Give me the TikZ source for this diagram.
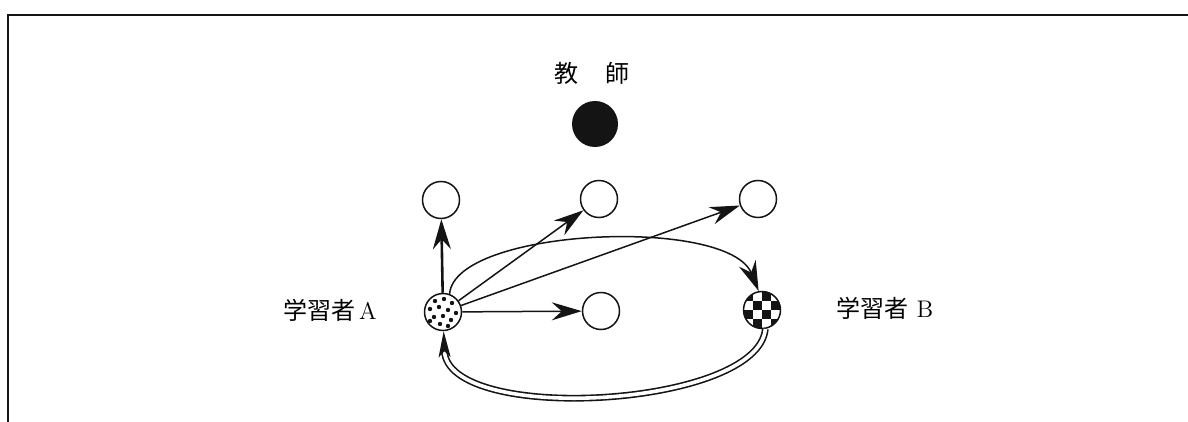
\documentclass[tikz,border=0pt]{standalone}
\usepackage{fontspec}
\newfontfamily\cjk{Noto Sans CJK JP}
\usepackage{tikz}
\usetikzlibrary{arrows.meta}
\definecolor{figline}{RGB}{20,20,20}
\tikzset{
  pt/.style  ={circle, draw=figline, line width=0.75pt, minimum size=18.5pt, inner sep=0pt, fill=white},
  tch/.style ={circle, fill=figline, minimum size=23pt, inner sep=0pt},
  lab/.style ={font=\fontsize{12pt}{14pt}\selectfont, inner sep=1pt},
  ln/.style  ={draw=figline, line width=0.75pt, -{Stealth[length=15pt,width=9pt,inset=5pt]}},
  lnb/.style ={ln, line width=1.3pt},
  dbl/.style ={draw=figline, line width=0.8pt, double=white, double distance=1.8pt, -{Stealth[length=13pt,width=6pt,inset=3pt]}},
  frm/.style ={draw=figline, line width=1pt},
}

\begin{document}
\begin{tikzpicture}[x=0.5pt,y=-0.5pt]
  \useasboundingbox (0,0) rectangle (1188,422);
  \draw[frm] (7,15) -- (1188,15);
  \draw[frm] (8,15) -- (8,422);
  \node[lab] (tlab) at (592,73) {\cjk 教\hspace{14pt}師};
  \node[tch] (tch) at (595,124) {};
  \node[pt] (tl) at (441,200) {};
  \node[pt] (tm) at (599,199) {};
  \node[pt] (tr) at (758,199) {};
  \node[pt] (mb) at (601,311) {};
  \node[pt, path picture={
    \begin{scope}[shift={(path picture bounding box.center)}]
      \foreach \p in {(-8,-11),(1,-13),(9,-9),(-13,-3),(-4,-5),(5,-2),(13,1),(-9,5),(0,4),(8,8),(-3,12),(5,14),(-13,9)}
        \fill[figline] \p circle (1.1pt);
    \end{scope}}] (la) at (443,312) {};
  \node[pt, path picture={
    \begin{scope}[shift={(path picture bounding box.center)}]
      \foreach \i in {-2,...,1}
        \foreach \j in {-2,...,1} {
          \pgfmathtruncatemacro\chk{mod(\i+\j+4,2)}
          \ifnum\chk=0 \fill[figline] (\i*9,\j*9) rectangle (\i*9+9,\j*9+9); \fi
        }
    \end{scope}}] (lb) at (762,310) {};
  \node[lab] (alab) at (330,310) {{\cjk 学習者}\,A};
  \node[lab] (blab) at (885,308) {{\cjk 学習者}\ B};
  \draw[lnb] (la) -- (tl);
  \draw[ln] (la) -- (tm);
  \draw[ln] (la) -- (tr);
  \draw[ln] (la) -- (mb);
  \draw[ln] (la.70) .. controls (455,228) and (728,216) .. (lb.100);
  \draw[dbl] (lb.280) .. controls (758,408) and (447,425) .. (la.272);
\end{tikzpicture}
\end{document}
